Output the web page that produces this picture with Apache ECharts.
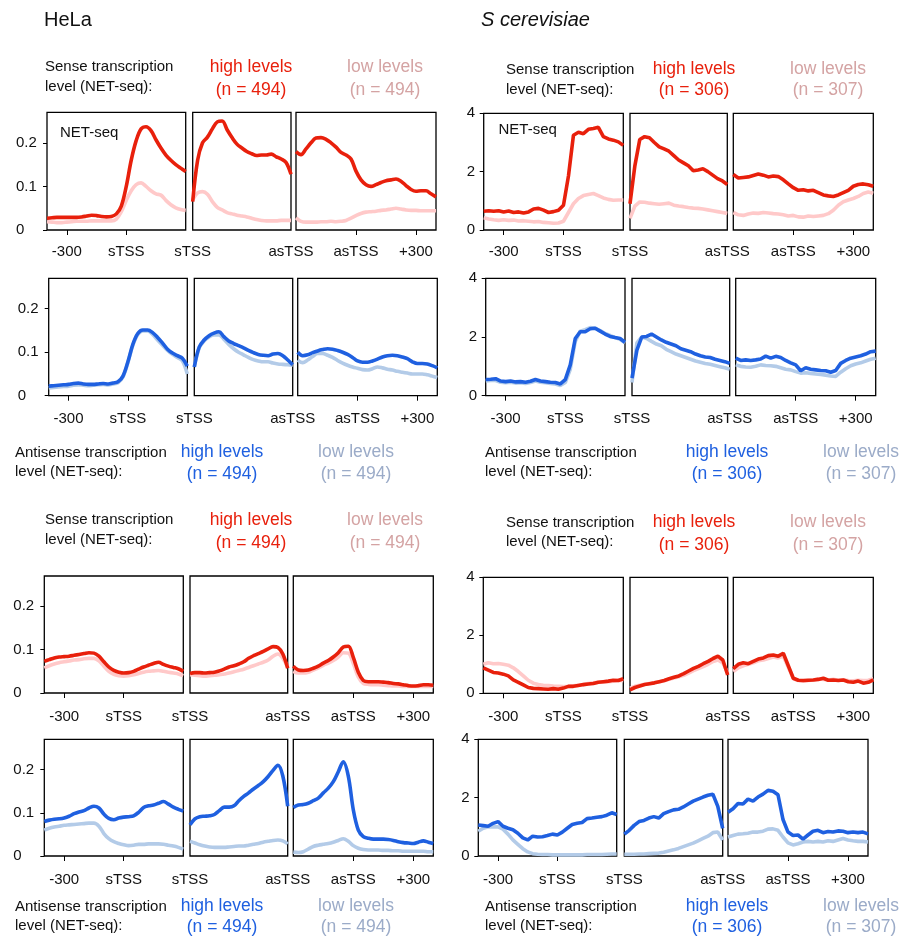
<!DOCTYPE html>
<html><head><meta charset="utf-8">
<script src="https://cdn.jsdelivr.net/npm/echarts@6/dist/echarts.min.js"></script>
<style>html,body{margin:0;padding:0;background:#fff}#c{width:899px;height:937px}</style>
</head><body><div id="c"></div>
<script>
// ---------- axis domains & tick labels ----------
const P1_RANGE = [-400, 300];   // bp around sTSS
const P2_RANGE = [0, 100];      // scaled sTSS -> asTSS
const P3_RANGE = [-300, 400];   // bp around asTSS
const P1_TICKS = [-300, 0];  const P1_LABELS = ['-300', 'sTSS'];
const P2_TICKS = [0, 100];   const P2_LABELS = ['sTSS', 'asTSS'];
const P3_TICKS = [0, 300];   const P3_LABELS = ['asTSS', '+300'];
const HELA_YMAX = 0.27;  const HELA_YTICKS = [0, 0.1, 0.2];  const HELA_YLABELS = ['0', '0.1', '0.2'];
const YEAST_YMAX = 4;    const YEAST_YTICKS = [0, 2, 4];     const YEAST_YLABELS = ['0', '2', '4'];

// ---------- HeLa, block 1: sense NET-seq ----------
const HELA_R1_P1_HIGH = [0.027,0.028,0.029,0.029,0.029,0.029,0.029,0.030,0.032,0.034,0.033,0.031,0.030,0.031,0.037,0.055,0.100,0.160,0.205,0.232,0.237,0.228,0.207,0.188,0.172,0.160,0.150,0.142,0.134];
const HELA_R1_P1_LOW  = [0.019,0.018,0.017,0.017,0.018,0.019,0.020,0.020,0.020,0.021,0.021,0.021,0.021,0.021,0.025,0.042,0.068,0.090,0.104,0.108,0.100,0.090,0.083,0.080,0.068,0.058,0.051,0.047,0.045];
const HELA_R1_P2_HIGH = [0.065,0.160,0.200,0.213,0.232,0.248,0.250,0.230,0.212,0.197,0.188,0.180,0.175,0.171,0.172,0.172,0.174,0.168,0.163,0.155,0.128];
const HELA_R1_P2_LOW  = [0.070,0.085,0.088,0.082,0.065,0.052,0.046,0.040,0.037,0.034,0.032,0.030,0.027,0.024,0.022,0.021,0.021,0.021,0.022,0.022,0.022];
const HELA_R1_P3_HIGH = [0.180,0.173,0.186,0.200,0.211,0.212,0.208,0.200,0.190,0.178,0.172,0.163,0.135,0.115,0.104,0.100,0.104,0.109,0.113,0.115,0.117,0.112,0.102,0.093,0.089,0.090,0.090,0.083,0.076];
const HELA_R1_P3_LOW  = [0.028,0.020,0.018,0.018,0.018,0.019,0.019,0.020,0.019,0.020,0.022,0.027,0.033,0.038,0.041,0.042,0.043,0.045,0.046,0.048,0.050,0.048,0.046,0.045,0.045,0.044,0.044,0.044,0.044];
// ---------- HeLa, block 2: antisense ----------
const HELA_R2_P1_HIGH = [0.022,0.023,0.024,0.025,0.026,0.028,0.029,0.027,0.026,0.026,0.027,0.028,0.027,0.029,0.032,0.045,0.078,0.118,0.143,0.151,0.151,0.145,0.134,0.121,0.107,0.098,0.092,0.086,0.068];
const HELA_R2_P1_LOW  = [0.018,0.019,0.020,0.021,0.022,0.024,0.025,0.024,0.023,0.024,0.025,0.026,0.025,0.027,0.030,0.043,0.076,0.116,0.141,0.149,0.149,0.141,0.128,0.116,0.104,0.095,0.088,0.080,0.050];
const HELA_R2_P2_HIGH = [0.066,0.112,0.128,0.138,0.144,0.147,0.136,0.126,0.120,0.115,0.110,0.104,0.099,0.095,0.093,0.092,0.096,0.097,0.092,0.082,0.071];
const HELA_R2_P2_LOW  = [0.066,0.110,0.126,0.135,0.140,0.140,0.130,0.118,0.108,0.100,0.094,0.088,0.083,0.080,0.078,0.078,0.075,0.073,0.072,0.071,0.070];
const HELA_R2_P3_HIGH = [0.100,0.092,0.094,0.099,0.103,0.106,0.108,0.107,0.104,0.100,0.095,0.088,0.080,0.077,0.077,0.080,0.084,0.089,0.092,0.093,0.092,0.089,0.085,0.078,0.074,0.074,0.073,0.069,0.064];
const HELA_R2_P3_LOW  = [0.082,0.076,0.082,0.090,0.097,0.097,0.093,0.088,0.081,0.075,0.070,0.066,0.063,0.060,0.059,0.062,0.066,0.064,0.061,0.059,0.056,0.054,0.052,0.050,0.050,0.050,0.048,0.045,0.042];
// ---------- HeLa, block 3: sense ----------
const HELA_R3_P1_HIGH = [0.073,0.077,0.081,0.083,0.084,0.085,0.087,0.089,0.091,0.093,0.092,0.085,0.072,0.060,0.052,0.048,0.046,0.047,0.050,0.055,0.060,0.064,0.068,0.071,0.066,0.062,0.059,0.056,0.050];
const HELA_R3_P1_LOW  = [0.058,0.063,0.067,0.070,0.072,0.074,0.076,0.077,0.079,0.080,0.080,0.074,0.062,0.050,0.043,0.040,0.039,0.040,0.042,0.045,0.048,0.050,0.051,0.052,0.050,0.048,0.046,0.044,0.040];
const HELA_R3_P2_HIGH = [0.045,0.047,0.047,0.046,0.047,0.048,0.051,0.055,0.060,0.063,0.067,0.072,0.080,0.086,0.091,0.096,0.102,0.107,0.105,0.090,0.057];
const HELA_R3_P2_LOW  = [0.042,0.041,0.040,0.039,0.040,0.041,0.042,0.044,0.046,0.049,0.052,0.055,0.059,0.063,0.067,0.071,0.076,0.085,0.090,0.080,0.060];
const HELA_R3_P3_HIGH = [0.062,0.053,0.052,0.053,0.057,0.062,0.069,0.075,0.083,0.093,0.106,0.108,0.082,0.048,0.029,0.026,0.026,0.026,0.025,0.024,0.022,0.021,0.019,0.017,0.016,0.017,0.019,0.019,0.018];
const HELA_R3_P3_LOW  = [0.050,0.046,0.046,0.048,0.053,0.058,0.064,0.069,0.075,0.083,0.093,0.092,0.068,0.037,0.022,0.020,0.019,0.019,0.018,0.017,0.016,0.016,0.015,0.015,0.015,0.015,0.015,0.015,0.015];
// ---------- HeLa, block 4: antisense ----------
const HELA_R4_P1_HIGH = [0.080,0.083,0.085,0.086,0.088,0.092,0.098,0.102,0.105,0.111,0.115,0.111,0.097,0.087,0.084,0.088,0.090,0.091,0.093,0.101,0.112,0.116,0.118,0.122,0.126,0.120,0.113,0.108,0.104];
const HELA_R4_P1_LOW  = [0.060,0.064,0.067,0.069,0.071,0.072,0.073,0.074,0.075,0.076,0.076,0.069,0.052,0.040,0.033,0.029,0.026,0.024,0.025,0.027,0.027,0.028,0.028,0.028,0.027,0.025,0.023,0.020,0.016];
const HELA_R4_P2_HIGH = [0.072,0.086,0.091,0.092,0.093,0.096,0.105,0.113,0.113,0.116,0.128,0.138,0.146,0.155,0.163,0.172,0.184,0.198,0.210,0.185,0.115];
const HELA_R4_P2_LOW  = [0.034,0.030,0.026,0.023,0.021,0.020,0.020,0.020,0.021,0.022,0.023,0.023,0.025,0.027,0.029,0.032,0.034,0.036,0.037,0.035,0.028];
const HELA_R4_P3_HIGH = [0.112,0.118,0.119,0.122,0.128,0.134,0.146,0.157,0.172,0.195,0.218,0.185,0.107,0.060,0.045,0.041,0.039,0.039,0.039,0.038,0.036,0.033,0.031,0.030,0.029,0.032,0.035,0.032,0.029];
const HELA_R4_P3_LOW  = [0.009,0.008,0.010,0.016,0.022,0.025,0.027,0.029,0.032,0.036,0.040,0.034,0.024,0.018,0.015,0.014,0.014,0.014,0.013,0.013,0.012,0.012,0.011,0.011,0.011,0.011,0.011,0.010,0.010];

// ---------- S cerevisiae, block 1 ----------
const YEAST_R1_P1_HIGH = [0.64,0.66,0.64,0.66,0.62,0.65,0.60,0.62,0.58,0.62,0.72,0.74,0.68,0.60,0.63,0.68,0.85,1.85,3.25,3.35,3.30,3.45,3.48,3.52,3.20,3.12,3.08,3.02,2.90];
const YEAST_R1_P1_LOW  = [0.42,0.38,0.35,0.33,0.35,0.33,0.34,0.31,0.32,0.30,0.28,0.29,0.26,0.25,0.23,0.24,0.30,0.60,0.90,1.08,1.18,1.22,1.25,1.18,1.10,1.05,1.02,1.03,1.03];
const YEAST_R1_P2_HIGH = [0.90,2.20,3.10,3.20,3.16,3.00,2.85,2.78,2.70,2.55,2.40,2.30,2.20,2.03,2.06,2.10,2.00,1.88,1.76,1.68,1.56];
const YEAST_R1_P2_LOW  = [0.40,0.82,0.96,0.95,0.92,0.90,0.88,0.90,0.92,0.85,0.82,0.80,0.77,0.75,0.74,0.72,0.69,0.66,0.63,0.60,0.57];
const YEAST_R1_P3_HIGH = [1.90,1.78,1.80,1.82,1.87,1.92,1.88,1.82,1.85,1.83,1.72,1.58,1.45,1.36,1.38,1.34,1.36,1.28,1.20,1.17,1.15,1.20,1.28,1.36,1.50,1.56,1.58,1.55,1.50];
const YEAST_R1_P3_LOW  = [0.60,0.52,0.50,0.55,0.58,0.57,0.60,0.58,0.56,0.55,0.52,0.48,0.50,0.45,0.44,0.48,0.46,0.48,0.50,0.56,0.68,0.85,0.97,1.03,1.08,1.15,1.25,1.30,1.26];
// ---------- S cerevisiae, block 2 ----------
const YEAST_R2_P1_HIGH = [0.55,0.56,0.58,0.50,0.48,0.50,0.47,0.48,0.46,0.49,0.55,0.50,0.48,0.46,0.45,0.40,0.55,1.05,1.95,2.18,2.18,2.28,2.30,2.20,2.10,2.02,1.98,1.95,1.82];
const YEAST_R2_P1_LOW  = [0.50,0.52,0.52,0.46,0.44,0.46,0.43,0.44,0.42,0.45,0.50,0.46,0.44,0.42,0.40,0.35,0.45,0.90,1.85,2.20,2.25,2.32,2.30,2.22,2.12,2.05,1.98,1.92,1.80];
const YEAST_R2_P2_HIGH = [0.60,1.55,2.00,2.02,2.10,2.00,1.90,1.82,1.76,1.70,1.60,1.55,1.50,1.42,1.36,1.32,1.30,1.24,1.20,1.16,1.10];
const YEAST_R2_P2_LOW  = [0.45,1.80,2.00,1.95,1.85,1.76,1.70,1.58,1.50,1.42,1.36,1.30,1.24,1.18,1.14,1.10,1.07,1.03,0.99,0.95,0.90];
const YEAST_R2_P3_HIGH = [1.28,1.20,1.22,1.20,1.22,1.25,1.35,1.28,1.34,1.30,1.20,1.12,1.05,0.85,0.95,0.90,0.88,0.86,0.85,0.80,0.86,1.10,1.20,1.28,1.32,1.36,1.42,1.50,1.52];
const YEAST_R2_P3_LOW  = [1.05,1.00,0.98,0.97,1.00,1.05,1.03,1.02,1.00,0.95,0.90,0.88,0.82,0.77,0.78,0.76,0.74,0.72,0.70,0.67,0.66,0.80,0.92,1.02,1.08,1.12,1.18,1.24,1.28];
// ---------- S cerevisiae, block 3 ----------
const YEAST_R3_P1_HIGH = [0.88,0.80,0.72,0.70,0.66,0.60,0.46,0.38,0.29,0.20,0.17,0.16,0.15,0.14,0.16,0.14,0.18,0.24,0.24,0.27,0.30,0.32,0.34,0.38,0.40,0.42,0.45,0.44,0.50];
const YEAST_R3_P1_LOW  = [1.00,1.05,1.02,1.03,1.00,0.97,0.88,0.75,0.60,0.45,0.35,0.30,0.28,0.27,0.25,0.24,0.23,0.24,0.26,0.28,0.30,0.34,0.36,0.38,0.38,0.40,0.42,0.45,0.43];
const YEAST_R3_P2_HIGH = [0.12,0.20,0.25,0.30,0.33,0.36,0.40,0.44,0.50,0.55,0.60,0.68,0.77,0.86,0.93,1.02,1.10,1.20,1.28,1.15,0.63];
const YEAST_R3_P2_LOW  = [0.18,0.24,0.28,0.31,0.34,0.36,0.40,0.43,0.48,0.53,0.57,0.62,0.70,0.78,0.85,0.92,1.00,1.10,1.15,1.05,0.70];
const YEAST_R3_P3_HIGH = [0.85,1.00,1.05,1.02,1.10,1.18,1.22,1.30,1.32,1.28,1.38,0.95,0.52,0.45,0.44,0.45,0.46,0.48,0.52,0.45,0.46,0.44,0.46,0.40,0.38,0.42,0.35,0.38,0.46];
const YEAST_R3_P3_LOW  = [0.75,0.88,0.95,1.00,1.05,1.12,1.15,1.20,1.25,1.22,1.28,0.90,0.50,0.44,0.42,0.44,0.46,0.50,0.48,0.46,0.48,0.45,0.47,0.44,0.43,0.45,0.44,0.45,0.50];
// ---------- S cerevisiae, block 4 ----------
const YEAST_R4_P1_HIGH = [1.06,1.04,1.02,1.12,1.18,1.02,0.95,0.90,0.78,0.62,0.55,0.68,0.65,0.66,0.70,0.75,0.72,0.82,0.95,1.08,1.12,1.15,1.28,1.30,1.33,1.35,1.40,1.48,1.42];
const YEAST_R4_P1_LOW  = [0.85,0.95,1.00,1.00,1.00,0.92,0.75,0.55,0.40,0.25,0.14,0.08,0.06,0.05,0.05,0.04,0.04,0.04,0.04,0.04,0.04,0.04,0.05,0.05,0.05,0.05,0.06,0.07,0.07];
const YEAST_R4_P2_HIGH = [0.75,0.88,1.05,1.18,1.22,1.30,1.35,1.30,1.45,1.52,1.58,1.60,1.68,1.78,1.88,1.95,2.02,2.08,2.12,1.70,0.95];
const YEAST_R4_P2_LOW  = [0.06,0.06,0.06,0.07,0.07,0.08,0.09,0.10,0.13,0.17,0.21,0.26,0.32,0.38,0.44,0.52,0.60,0.68,0.80,0.82,0.55];
const YEAST_R4_P3_HIGH = [1.50,1.62,1.80,1.78,1.95,1.88,2.02,2.12,2.25,2.22,2.10,1.25,0.82,0.70,0.72,0.58,0.72,0.85,0.88,0.80,0.84,0.82,0.86,0.85,0.80,0.82,0.80,0.82,0.76];
const YEAST_R4_P3_LOW  = [0.65,0.70,0.75,0.76,0.78,0.82,0.82,0.85,0.92,0.93,0.88,0.65,0.45,0.38,0.42,0.48,0.50,0.48,0.50,0.48,0.52,0.50,0.55,0.60,0.55,0.52,0.50,0.50,0.48];

// ---------- layout (pixel boxes of each panel) ----------
const LEFT_BOXES = [
  {y:[112.3,230],   x:[[47,185.7],[192.7,291],[296,436]], lm:14},
  {y:[278.3,395.7], x:[[48.7,187.3],[194.3,292.7],[297.7,437.3]], lm:16},
  {y:[576,693],     x:[[44.3,183.3],[190,287.7],[293.3,433.3]], lm:16},
  {y:[739.3,856],   x:[[44.3,183.3],[190,287.7],[293.3,433.3]], lm:16}
];
const RIGHT_BOXES = [
  {y:[113.3,230],   x:[[483.7,623.3],[630,727.3],[733.3,873.3]], lm:14},
  {y:[278.3,395.7], x:[[485.7,625],[632,729.7],[735.7,875.7]], lm:16},
  {y:[577.3,693.3], x:[[483.3,623.3],[630,727.7],[733.3,873.3]], lm:16},
  {y:[739.3,856],   x:[[478.3,616.7],[624.3,722.7],[728,868]], lm:16}
];

const RED = '#e8200c', PINK = '#ffc9c9', BLUE = '#1f60e0', LBLUE = '#b3cbe8';
const RED_LOW_TXT = '#d4a3a3', BLUE_LOW_TXT = '#9babc8';
const FONT = "'Liberation Sans', Arial, Helvetica, sans-serif";

const HELA = [
  [[HELA_R1_P1_HIGH,HELA_R1_P1_LOW],[HELA_R1_P2_HIGH,HELA_R1_P2_LOW],[HELA_R1_P3_HIGH,HELA_R1_P3_LOW]],
  [[HELA_R2_P1_HIGH,HELA_R2_P1_LOW],[HELA_R2_P2_HIGH,HELA_R2_P2_LOW],[HELA_R2_P3_HIGH,HELA_R2_P3_LOW]],
  [[HELA_R3_P1_HIGH,HELA_R3_P1_LOW],[HELA_R3_P2_HIGH,HELA_R3_P2_LOW],[HELA_R3_P3_HIGH,HELA_R3_P3_LOW]],
  [[HELA_R4_P1_HIGH,HELA_R4_P1_LOW],[HELA_R4_P2_HIGH,HELA_R4_P2_LOW],[HELA_R4_P3_HIGH,HELA_R4_P3_LOW]]
];
const YEAST = [
  [[YEAST_R1_P1_HIGH,YEAST_R1_P1_LOW],[YEAST_R1_P2_HIGH,YEAST_R1_P2_LOW],[YEAST_R1_P3_HIGH,YEAST_R1_P3_LOW]],
  [[YEAST_R2_P1_HIGH,YEAST_R2_P1_LOW],[YEAST_R2_P2_HIGH,YEAST_R2_P2_LOW],[YEAST_R2_P3_HIGH,YEAST_R2_P3_LOW]],
  [[YEAST_R3_P1_HIGH,YEAST_R3_P1_LOW],[YEAST_R3_P2_HIGH,YEAST_R3_P2_LOW],[YEAST_R3_P3_HIGH,YEAST_R3_P3_LOW]],
  [[YEAST_R4_P1_HIGH,YEAST_R4_P1_LOW],[YEAST_R4_P2_HIGH,YEAST_R4_P2_LOW],[YEAST_R4_P3_HIGH,YEAST_R4_P3_LOW]]
];
const RANGES = [P1_RANGE, P2_RANGE, P3_RANGE];
const XTICKS = [P1_TICKS, P2_TICKS, P3_TICKS];
const XLABELS = [P1_LABELS, P2_LABELS, P3_LABELS];

function pairs(vals, range) {
  const n = vals.length;
  return vals.map((v, i) => [range[0] + (range[1] - range[0]) * i / (n - 1), v]);
}

const grids = [], xAxes = [], yAxes = [], series = [];
function addColumn(boxes, data, isHela) {
  const ymax = isHela ? HELA_YMAX : YEAST_YMAX;
  const yt = isHela ? HELA_YTICKS : YEAST_YTICKS;
  const yl = isHela ? HELA_YLABELS : YEAST_YLABELS;
  const ylm = isHela ? 31 : 17;
  boxes.forEach((b, r) => {
    const antisense = (r % 2 === 1);
    const hiC = antisense ? BLUE : RED, loC = antisense ? LBLUE : PINK;
    for (let p = 0; p < 3; p++) {
      const gi = grids.length;
      grids.push({left: b.x[p][0], top: b.y[0], width: b.x[p][1] - b.x[p][0], height: b.y[1] - b.y[0],
        show: true, borderColor: '#000', borderWidth: 1.3, backgroundColor: 'transparent', containLabel: false});
      const tk = XTICKS[p], lb = XLABELS[p];
      xAxes.push({type: 'value', gridIndex: gi, min: RANGES[p][0], max: RANGES[p][1], position: 'bottom',
        axisLine: {show: false, onZero: false}, splitLine: {show: false},
        axisTick: {show: p !== 1, length: 5, customValues: tk, lineStyle: {color: '#000', width: 1}},
        axisLabel: {show: true, customValues: tk, margin: b.lm, color: '#111', fontSize: 15, fontFamily: FONT,
          formatter: v => lb[tk.indexOf(v)] || ''}});
      yAxes.push({type: 'value', gridIndex: gi, min: 0, max: ymax, position: 'left',
        axisLine: {show: false, onZero: false}, splitLine: {show: false},
        axisTick: {show: p === 0, length: 4, customValues: yt, lineStyle: {color: '#000', width: 1}},
        axisLabel: {show: p === 0, customValues: yt, align: 'left', margin: ylm, color: '#111', fontSize: 15,
          fontFamily: FONT, padding: [6, 0, 0, 0], formatter: v => yl[yt.indexOf(v)] || ''}});
      const [hi, lo] = data[r][p];
      const common = {type: 'line', xAxisIndex: gi, yAxisIndex: gi, showSymbol: false, symbol: 'none',
        smooth: isHela ? 0.35 : false, silent: true, animation: false, clip: true};
      series.push(Object.assign({}, common, {data: pairs(lo, RANGES[p]), lineStyle: {color: loC, width: 3.6}, z: 2}));
      series.push(Object.assign({}, common, {data: pairs(hi, RANGES[p]), lineStyle: {color: hiC, width: 3.6}, z: 3}));
    }
  });
}
addColumn(LEFT_BOXES, HELA, true);
addColumn(RIGHT_BOXES, YEAST, false);

// ---------- texts ----------
const graphics = [];
function txt(s, x, y, opts) {
  graphics.push({type: 'text', silent: true, z: 10, style: Object.assign({
    text: s, x: x, y: y, fill: '#111', fontSize: 15, fontFamily: FONT, align: 'left', verticalAlign: 'middle'}, opts || {})});
}
txt('HeLa', 44, 20, {fontSize: 20});
txt('S cerevisiae', 481, 20, {fontSize: 20, fontStyle: 'italic'});

function header(kind, lx, ly1, ly2, hx, lowx, hy1, hy2, n1, n2) {
  const sense = kind === 'sense';
  txt(sense ? 'Sense transcription' : 'Antisense transcription', lx, ly1);
  txt('level (NET-seq):', lx, ly2);
  const hc = sense ? RED : BLUE, lc = sense ? RED_LOW_TXT : BLUE_LOW_TXT;
  txt('high levels', hx, hy1, {fill: hc, fontSize: 17.5, align: 'center'});
  txt('(n = ' + n1 + ')', hx, hy2, {fill: hc, fontSize: 17.5, align: 'center'});
  txt('low levels', lowx, hy1, {fill: lc, fontSize: 17.5, align: 'center'});
  txt('(n = ' + n2 + ')', lowx, hy2, {fill: lc, fontSize: 17.5, align: 'center'});
}
header('sense', 45, 67, 87, 251, 385, 67, 90, 494, 494);
header('sense', 506, 70, 89.5, 694, 828, 69, 90.5, 306, 307);
header('antisense', 15, 452.5, 471.5, 222, 356, 452, 474, 494, 494);
header('antisense', 485, 452.5, 471.5, 727, 861, 452, 474, 306, 307);
header('sense', 45, 520, 539.5, 251, 385, 520, 543, 494, 494);
header('sense', 506, 522.5, 541.5, 694, 828, 522, 545, 306, 307);
header('antisense', 15, 906.5, 926, 222, 356, 906, 927, 494, 494);
header('antisense', 485, 906.5, 926, 727, 861, 906, 927, 306, 307);
txt('NET-seq', 60, 133);
txt('NET-seq', 498.5, 130);

const chart = echarts.init(document.getElementById('c'), null, {renderer: 'canvas'});
chart.setOption({animation: false, backgroundColor: '#fff', grid: grids, xAxis: xAxes, yAxis: yAxes,
  series: series, graphic: graphics});
</script></body></html>
